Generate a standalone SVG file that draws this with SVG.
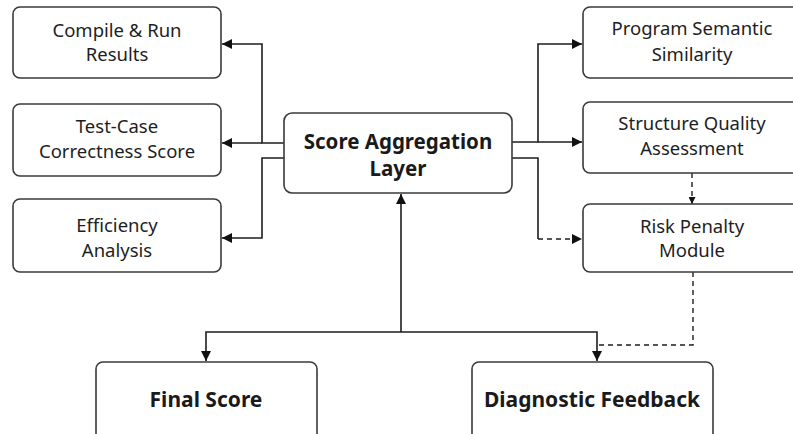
<svg xmlns="http://www.w3.org/2000/svg" width="793" height="434" viewBox="0 0 793 434">
<style>
.box{fill:#fff;stroke:#3a3a3a;stroke-width:1.6}
.t{font-family:"Noto Sans","Open Sans","DejaVu Sans",sans-serif;font-size:18.5px;fill:#1e1e1e;text-anchor:middle}
.b{font-family:"Noto Sans","Open Sans","DejaVu Sans",sans-serif;font-size:20.5px;font-weight:bold;fill:#1a1a1a;text-anchor:middle}
.bb{font-size:21px}
.c{fill:none;stroke:#1e1e1e;stroke-width:1.6}
.d{fill:none;stroke:#1e1e1e;stroke-width:1.4;stroke-dasharray:5 4}
</style>
<defs>
<marker id="a" viewBox="0 0 10 10" refX="10" refY="5" markerWidth="10" markerHeight="10" markerUnits="userSpaceOnUse" orient="auto">
<path d="M0,0 L10,5 L0,10 z" fill="#111"/>
</marker>
<marker id="s" viewBox="0 0 10 10" refX="10" refY="5" markerWidth="7" markerHeight="7" markerUnits="userSpaceOnUse" orient="auto">
<path d="M0,0 L10,5 L0,10 z" fill="#111"/>
</marker>
</defs>
<rect width="793" height="434" fill="#fff"/>
<g id="connectors">
<path class="c" d="M284,143 H262 V44 H222" marker-end="url(#a)"/>
<path class="c" d="M262,143 H222" marker-end="url(#a)"/>
<path class="c" d="M284,158 H262 V238 H222" marker-end="url(#a)"/>
<path class="c" d="M512,142 H538 V44 H582" marker-end="url(#a)"/>
<path class="c" d="M538,142 H582" marker-end="url(#a)"/>
<path class="c" d="M512,158 H538 V239"/>
<path class="d" d="M538,239 H582" marker-end="url(#a)"/>
<path class="d" d="M692,173 V204" marker-end="url(#s)"/>
<path class="d" d="M693,272 V345 H597"/>
<path class="c" d="M401,332 V194" marker-end="url(#a)"/>
<path class="c" d="M401,332 H206 V361" marker-end="url(#a)"/>
<path class="c" d="M401,332 H597 V361" marker-end="url(#a)"/>
</g>
<g id="compile">
<rect class="box" x="13" y="7" width="208" height="71" rx="7"/>
<text class="t" x="117" y="37">Compile &amp; Run</text>
<text class="t" x="117" y="61">Results</text>
</g>
<g id="testcase">
<rect class="box" x="13" y="104" width="208" height="72" rx="7"/>
<text class="t" x="117" y="133">Test-Case</text>
<text class="t" x="117" y="158">Correctness Score</text>
</g>
<g id="efficiency">
<rect class="box" x="13" y="199" width="208" height="73" rx="7"/>
<text class="t" x="117" y="232">Efficiency</text>
<text class="t" x="117" y="257">Analysis</text>
</g>
<g id="aggregation">
<rect class="box" x="284" y="113" width="228" height="80" rx="8"/>
<text class="b" x="398" y="149">Score Aggregation</text>
<text class="b" x="398" y="176">Layer</text>
</g>
<g id="semantic">
<rect class="box" x="583" y="7" width="218" height="71" rx="7"/>
<text class="t" x="692" y="35">Program Semantic</text>
<text class="t" x="692" y="61">Similarity</text>
</g>
<g id="structure">
<rect class="box" x="583" y="102" width="218" height="71" rx="7"/>
<text class="t" x="692" y="130">Structure Quality</text>
<text class="t" x="692" y="155">Assessment</text>
</g>
<g id="risk">
<rect class="box" x="583" y="204" width="218" height="68" rx="7"/>
<text class="t" x="692" y="233">Risk Penalty</text>
<text class="t" x="692" y="257">Module</text>
</g>
<g id="final">
<rect class="box" x="96" y="362" width="221" height="80" rx="7"/>
<text class="b bb" x="206" y="407">Final Score</text>
</g>
<g id="diagnostic">
<rect class="box" x="472" y="362" width="241" height="80" rx="7"/>
<text class="b bb" x="592" y="407">Diagnostic Feedback</text>
</g>
</svg>
